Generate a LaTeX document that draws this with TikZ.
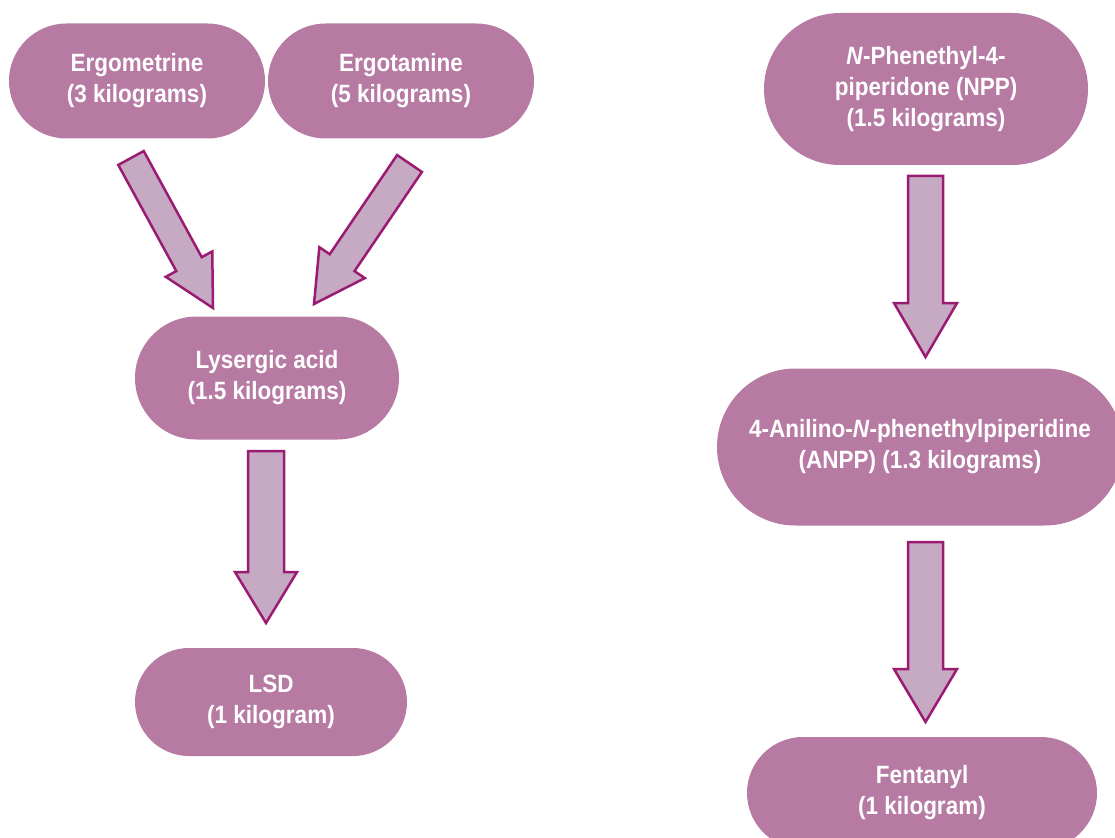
\documentclass[tikz,border=0pt]{standalone}
\usepackage{fontspec}
\newfontfamily\condfont[FakeStretch=0.90]{Liberation Sans}
\usetikzlibrary{shapes.misc,calc}
\definecolor{pillfill}{RGB}{183,123,163}
\definecolor{arrfill}{RGB}{198,170,195}
\definecolor{arrline}{RGB}{155,27,114}
\tikzset{
  pill/.style={rounded rectangle, fill=pillfill, draw=none, text=white, align=center, inner sep=0pt,
    font=\condfont\bfseries\fontsize{25}{31}\selectfont},
  barrow/.style={fill=arrfill, draw=arrline, line width=2.5pt, line join=miter}
}
\newcommand{\blockarrow}[5]{%
  \coordinate (ba-h) at ($(#2)!#5!(#1)$);
  \draw[barrow] ($(#1)!#3!90:(#2)$) -- ($(ba-h)!#3!90:(#2)$) -- ($(ba-h)!#4!90:(#2)$) -- (#2)
    -- ($(ba-h)!#4!-90:(#2)$) -- ($(ba-h)!#3!-90:(#2)$) -- ($(#1)!#3!-90:(#2)$) -- cycle;
}
\begin{document}
\begin{tikzpicture}[x=1pt,y=-1pt]
\useasboundingbox (0,0) rectangle (1115,837);
\clip (0,0) rectangle (1115,837);
% nodes
\node[pill, minimum width=256pt, minimum height=115pt] (ergo) at (137,81) {Ergometrine\\(3 kilograms)};
\node[pill, minimum width=266pt, minimum height=115pt] (ergt) at (401,81) {Ergotamine\\(5 kilograms)};
\node[pill, minimum width=264pt, minimum height=123pt] (lys) at (267,378) {Lysergic acid\\(1.5 kilograms)};
\node[pill, minimum width=272pt, minimum height=108pt] (lsd) at (271,702) {LSD\\(1 kilogram)};
\node[pill, minimum width=324pt, minimum height=152pt] (npp) at (926,89) {\textit{N}-Phenethyl-4-\\piperidone (NPP)\\(1.5 kilograms)};
\node[pill, minimum width=406pt, minimum height=157pt] (anpp) at (920,447) {4-Anilino-\textit{N}-phenethylpiperidine\\(ANPP) (1.3 kilograms)};
\node[pill, minimum width=350pt, minimum height=112pt] (fent) at (922,793) {Fentanyl\\(1 kilogram)};
% arrow end points
\coordinate (a1t) at (131,158);   \coordinate (a1h) at (213,308);
\coordinate (a2t) at (409.5,163.5); \coordinate (a2h) at (314,304);
\coordinate (a3t) at (266,451);   \coordinate (a3h) at (266,623);
\coordinate (a4t) at (925.5,176); \coordinate (a4h) at (925.5,357);
\coordinate (a5t) at (925.5,542); \coordinate (a5h) at (925.5,722);
\blockarrow{a1t}{a1h}{14.5pt}{26.5pt}{50pt}
\blockarrow{a2t}{a2h}{15pt}{27.5pt}{50pt}
\blockarrow{a3t}{a3h}{18pt}{31pt}{51pt}
\blockarrow{a4t}{a4h}{17.5pt}{31.5pt}{54pt}
\blockarrow{a5t}{a5h}{17.5pt}{31.5pt}{53pt}
\end{tikzpicture}
\end{document}
